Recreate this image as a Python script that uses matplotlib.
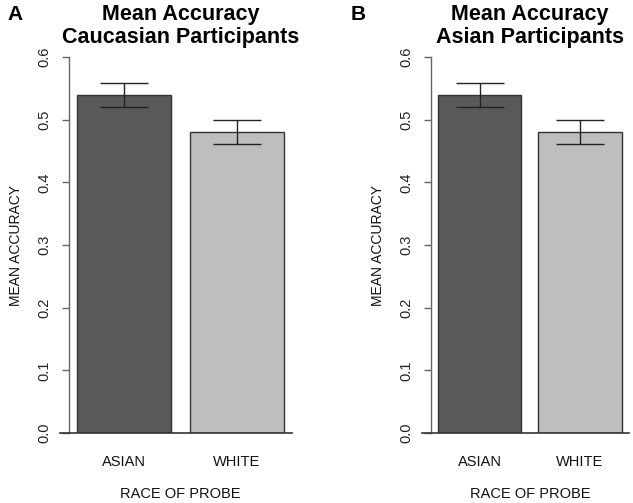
import matplotlib
matplotlib.use("Agg")
import matplotlib.pyplot as plt

plt.rcParams['font.family'] = ['Liberation Sans', 'DejaVu Sans']

categories = ["ASIAN", "WHITE"]
caucasian_means = [0.54, 0.48]
caucasian_se = [0.019, 0.019]
asian_means = [0.54, 0.48]
asian_se = [0.019, 0.019]
yticks = [0.0, 0.1, 0.2, 0.3, 0.4, 0.5, 0.6]
titles = ["Mean Accuracy\nCaucasian Participants", "Mean Accuracy\nAsian Participants"]
panel_letters = ["A", "B"]
bar_colors = ["#595959", "#bebebe"]

W, H = 633, 503
fig = plt.figure(figsize=(W / 100, H / 100), dpi=100)

panels = [
    dict(left=69, right=292, means=caucasian_means, se=caucasian_se, title=titles[0],
         letter=panel_letters[0], letter_x=15, base_left=60),
    dict(left=431, right=629, means=asian_means, se=asian_se, title=titles[1],
         letter=panel_letters[1], letter_x=358, base_left=422),
]

top_px, bot_px = 57, 433
xpos = [0.7, 1.9]

for p in panels:
    ax = fig.add_axes([p["left"] / W, (H - bot_px) / H,
                       (p["right"] - p["left"]) / W, (bot_px - top_px) / H])
    ax.bar(xpos, p["means"], width=1.0, color=bar_colors, edgecolor="#333333",
           linewidth=1.0, zorder=2)
    ax.errorbar(xpos, p["means"], yerr=p["se"], fmt="none", ecolor="#222222",
                elinewidth=1.0, capsize=17, capthick=1.0, zorder=3)
    ax.set_xlim(0.116, 2.488)
    ax.set_ylim(0, 0.6)
    for s in ["top", "right", "bottom"]:
        ax.spines[s].set_visible(False)
    ax.spines["left"].set_color("#666666")
    ax.spines["left"].set_linewidth(1.0)
    axw = p["right"] - p["left"]
    ax.axhline(0, xmin=-(p["left"] - p["base_left"]) / axw, xmax=1.0,
               color="#333333", linewidth=1.2, clip_on=False, zorder=4)
    ax.set_yticks(yticks)
    ax.set_yticklabels([f"{v:.1f}" for v in yticks], rotation=90, va="center",
                       fontsize=10.5, color="#222222")
    ax.tick_params(axis="y", direction="out", length=5, width=1.0, color="#666666", pad=8)
    ax.set_xticks(xpos)
    ax.set_xticklabels(categories, fontsize=10.5, color="#111111")
    ax.tick_params(axis="x", length=0, pad=16)
    ax.set_xlabel("RACE OF PROBE", fontsize=10.5, labelpad=13, color="#111111")
    ax.set_ylabel("MEAN ACCURACY", fontsize=10, labelpad=10, color="#111111")
    cx = (p["left"] + p["right"]) / 2 / W
    fig.text(cx, 1 - 26 / H, p["title"], ha="center", va="center", fontsize=15.5,
             fontweight="bold", linespacing=1.15)
    fig.text(p["letter_x"] / W, 1 - 14 / H, p["letter"], ha="center", va="center",
             fontsize=15, fontweight="bold")

fig.savefig("out.png", dpi=100)
